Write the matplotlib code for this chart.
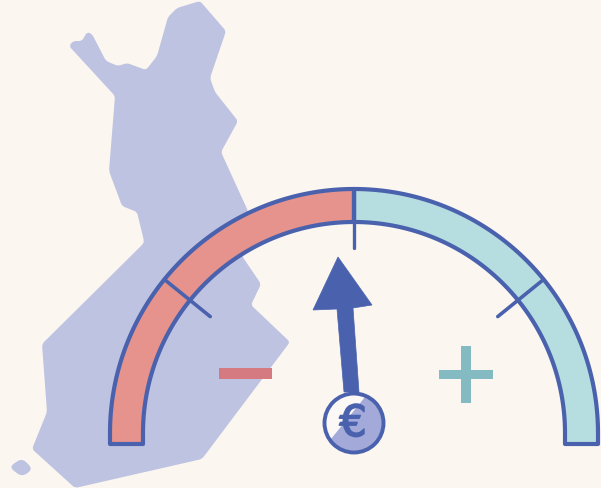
import numpy as np
import matplotlib
matplotlib.use("Agg")
import matplotlib.pyplot as plt
from matplotlib.patches import Polygon, Circle, Rectangle, PathPatch
from matplotlib.path import Path
import matplotlib.patheffects as pe

BG = "#FBF6F0"; MAP = "#BEC3E1"; RED = "#E5938C"; TEAL = "#B6DEE0"; BLUE = "#4A62AE"
MINUS = "#D67A82"; PLUS = "#84BBC2"; COIN = "#A3A9D8"; COINHI = "#FBF8F6"

map_x = [200,226,210,215,238,221,248,250,242,261,251,290,202,75,32,47,42,143,144,137,122,109,115,69,73,82,87,92,106,118,127,146,157,168,177]
map_y = [2,32,79,93,122,153,212,235,257,285,306,343,460,489,450,413,345,245,242,213,207,172,97,47,42,42,33,35,62,67,64,71,57,18,9]
island_x = [9,22,33,22]
island_y = [468,459,470,478]

cx, cy = 354, 434
r_out, r_in = 244, 211
leg = 11
tick_deg = [141, 39]
tick_r_in = [185, 185]
mid_tick = [(354,190),(354,249)]

needle_x = [338,372,353,359,344,337,313]
needle_y = [258,306,309,393,393,310,311]
coin = (354,424,29.5)
hi_x = [322,365,331,316]
hi_y = [390,398,440,440]

def rounded(xs, ys, r):
    pts = np.c_[xs, ys].astype(float)
    n = len(pts)
    verts, codes = [], []
    for i in range(n):
        p, a, b = pts[i], pts[i-1], pts[(i+1) % n]
        ra = min(r, np.linalg.norm(a-p)/2)
        rb = min(r, np.linalg.norm(b-p)/2)
        p0 = p + (a-p)/np.linalg.norm(a-p)*ra
        p1 = p + (b-p)/np.linalg.norm(b-p)*rb
        verts += [p0, p, p1]
        codes += [Path.MOVETO if i == 0 else Path.LINETO, Path.CURVE3, Path.CURVE3]
    verts.append(verts[0]); codes.append(Path.CLOSEPOLY)
    return Path(verts, codes)

fig = plt.figure(figsize=(6.01,4.89), dpi=100, facecolor=BG)
ax = fig.add_axes([0,0,1,1])
ax.set_xlim(0,601); ax.set_ylim(489,0); ax.axis("off")

ax.add_patch(PathPatch(rounded(map_x, map_y, 3), fc=MAP, ec="none", zorder=1))
ax.add_patch(PathPatch(rounded(island_x, island_y, 6), fc=MAP, ec="none", zorder=1))

def band(a0, a1, color):
    t = np.radians(np.linspace(a0, a1, 200))
    ox = cx + r_out*np.cos(t); oy = cy - r_out*np.sin(t)
    ix = cx + r_in*np.cos(t[::-1]); iy = cy - r_in*np.sin(t[::-1])
    if a0 == 180:
        pts = np.r_[np.c_[[cx-r_out],[cy+leg]], np.c_[ox,oy], np.c_[ix,iy], np.c_[[cx-r_in],[cy+leg]]]
    else:
        pts = np.r_[np.c_[ox,oy], np.c_[[cx+r_out],[cy+leg]], np.c_[[cx+r_in],[cy+leg]], np.c_[ix,iy]]
    ax.add_patch(Polygon(pts, fc=color, ec=BLUE, lw=3.0, joinstyle="round", zorder=2))

band(180, 90, RED)
band(90, 0, TEAL)

for d, ri in zip(tick_deg, tick_r_in):
    t = np.radians(d)
    ax.plot([cx+r_out*np.cos(t), cx+ri*np.cos(t)], [cy-r_out*np.sin(t), cy-ri*np.sin(t)],
            color=BLUE, lw=2.6, solid_capstyle="round", zorder=3)
ax.plot(*zip(*mid_tick), color=BLUE, lw=2.4, solid_capstyle="round", zorder=3)

ax.add_patch(Rectangle((219,369),53,10.5,fc=MINUS,ec="none",zorder=3))
ax.add_patch(Rectangle((439,371),54,8.5,fc=PLUS,ec="none",zorder=3))
ax.add_patch(Rectangle((461,347),10,57,fc=PLUS,ec="none",zorder=3))

ax.add_patch(Polygon(np.c_[needle_x,needle_y], fc=BLUE, ec=BLUE, lw=0.5, zorder=4))
c = Circle(coin[:2], coin[2], fc=COIN, ec="none", zorder=5); ax.add_patch(c)
h = Polygon(np.c_[hi_x,hi_y], fc=COINHI, ec="none", zorder=6); ax.add_patch(h); h.set_clip_path(c)
ax.add_patch(Circle(coin[:2], coin[2], fc="none", ec=BLUE, lw=2.8, zorder=7))
ax.text(coin[0]-1, coin[1]+1, "€", color=BLUE, fontsize=31, ha="center", va="center",
        fontfamily="DejaVu Sans", zorder=8,
        path_effects=[pe.withStroke(linewidth=1.2, foreground=BLUE)])

fig.savefig("out.png", dpi=100, facecolor=BG)
